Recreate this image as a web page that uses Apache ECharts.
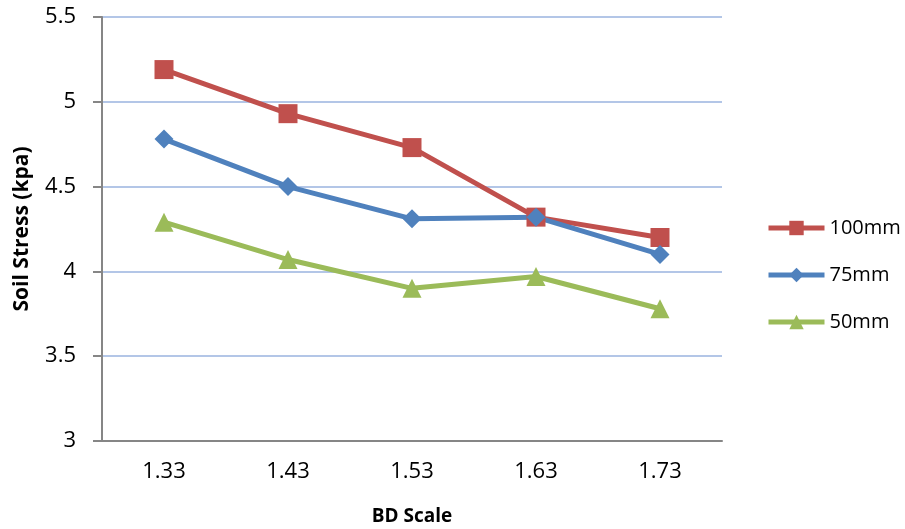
<!DOCTYPE html>
<html>
<head>
<meta charset="utf-8">
<script src="https://cdn.jsdelivr.net/npm/echarts@6/dist/echarts.min.js"></script>
<style>
html, body { margin: 0; padding: 0; background: #fff; }
#chart { width: 905px; height: 529px; }
</style>
</head>
<body>
<div id="chart"></div>
<script>
// 数据
var categories = ['1.33', '1.43', '1.53', '1.63', '1.73'];
var s100 = [5.19, 4.93, 4.73, 4.32, 4.20];
var s75 = [4.78, 4.50, 4.31, 4.32, 4.10];
var s50 = [4.29, 4.07, 3.90, 3.97, 3.78];

var font = '"Open Sans", "Liberation Sans", sans-serif';

function makeSeries(name, data, color, symbol, size) {
	return {
		name: name,
		type: 'line',
		data: data,
		symbol: symbol,
		symbolSize: size,
		lineStyle: { color: color, width: 5 },
		itemStyle: { color: color },
		emphasis: { disabled: true }
	};
}

var chart = echarts.init(document.getElementById('chart'));
var option = {
	animation: false,
	grid: { left: 102, top: 17, right: 183, bottom: 88, outerBoundsMode: 'none', containLabel: false },
	legend: {
		orient: 'vertical',
		left: 761,
		top: 213,
		itemWidth: 56,
		itemHeight: 18,
		itemGap: 27,
		lineStyle: { width: 5 },
		textStyle: { fontFamily: font, fontSize: 20, color: '#000' },
		data: ['100mm', '75mm', '50mm']
	},
	xAxis: {
		type: 'category',
		data: categories,
		name: 'BD Scale',
		nameLocation: 'middle',
		nameGap: 66,
		nameTextStyle: { fontFamily: font, fontSize: 19, fontWeight: 'bold', color: '#000' },
		axisLine: { lineStyle: { color: '#868686', width: 2 } },
		axisTick: { length: 9, lineStyle: { color: '#868686', width: 2 } },
		axisLabel: { fontFamily: font, fontSize: 22, color: '#000', margin: 20 }
	},
	yAxis: {
		type: 'value',
		min: 3,
		max: 5.5,
		interval: 0.5,
		name: 'Soil Stress (kpa)',
		nameLocation: 'middle',
		nameGap: 69,
		nameTextStyle: { fontFamily: font, fontSize: 21, fontWeight: 'bold', color: '#000' },
		axisLine: { show: true, lineStyle: { color: '#868686', width: 2 } },
		axisTick: { show: true, length: 9, lineStyle: { color: '#868686', width: 2 } },
		axisLabel: { fontFamily: font, fontSize: 22, color: '#000', margin: 26 },
		splitLine: { lineStyle: { color: '#b3c6e7', width: 2 } }
	},
	series: [
		makeSeries('100mm', s100, '#c0504d', 'rect', 19),
		makeSeries('75mm', s75, '#4f81bd', 'diamond', 19),
		makeSeries('50mm', s50, '#9bbb59', 'triangle', 19)
	]
};
chart.setOption(option);
</script>
</body>
</html>
